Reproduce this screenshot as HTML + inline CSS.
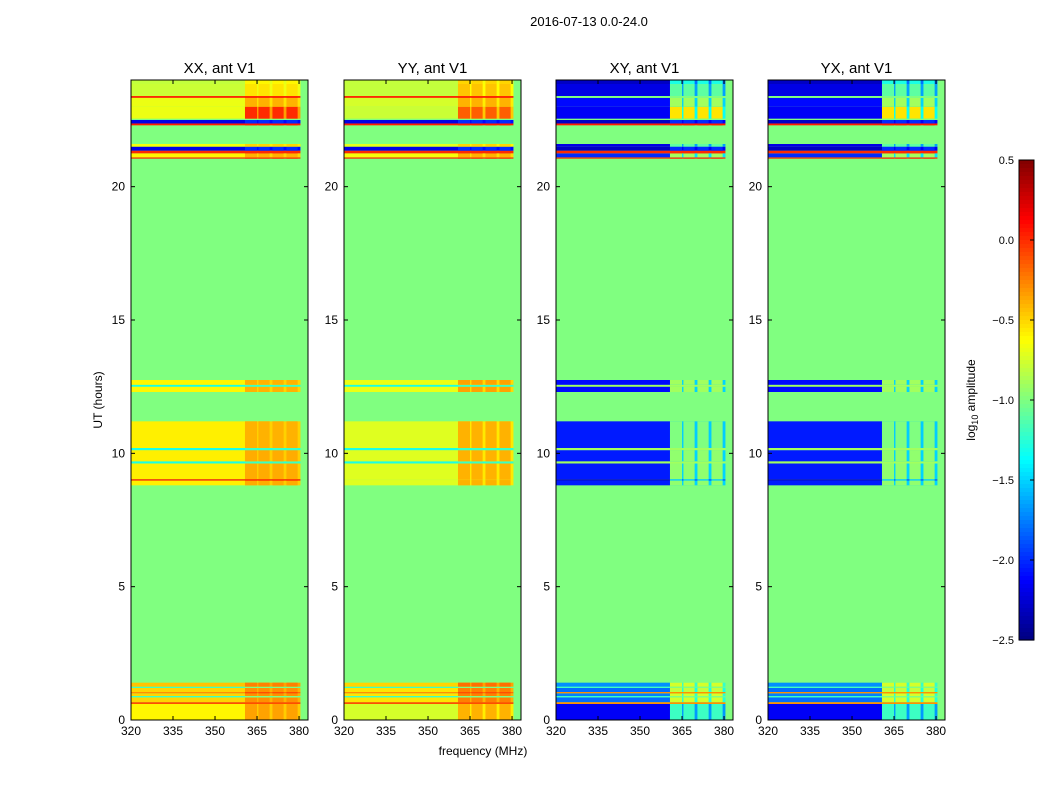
<!DOCTYPE html>
<html><head><meta charset="utf-8"><style>
html,body{margin:0;padding:0;background:#fff;}
svg{display:block;font-family:"Liberation Sans",sans-serif;}
</style></head><body>
<svg id="chart" width="1050" height="800" viewBox="0 0 1050 800">
<text x="589" y="26" font-size="13" text-anchor="middle">2016-07-13 0.0-24.0</text>
<text x="483" y="755" font-size="12" text-anchor="middle">frequency (MHz)</text>
<text transform="translate(102,400) rotate(-90)" font-size="12" text-anchor="middle">UT (hours)</text>
<text transform="translate(975,400) rotate(-90)" font-size="12" text-anchor="middle">log<tspan font-size="9" dy="3">10</tspan><tspan dy="-3"> amplitude</tspan></text>
<g id="panels"></g>
<g id="cbar"></g>
</svg>
<script>
// ---- data ----
const panelTitles = ["XX, ant V1","YY, ant V1","XY, ant V1","YX, ant V1"];
const xTicks = [320,335,350,365,380];
const yTicks = [0,5,10,15,20];
const cbTicks = [0.5,0.0,-0.5,-1.0,-1.5,-2.0,-2.5];
const cbTickLabels = ["0.5","0.0","\u22120.5","\u22121.0","\u22121.5","\u22122.0","\u22122.5"];
const rowStart = [0.0,0.60,0.67,0.85,0.90,1.00,1.05,1.20,1.25,8.80,8.98,9.03,9.62,9.70,10.12,10.20,12.30,12.50,12.57,21.05,21.10,21.25,21.35,21.50,22.30,22.37,22.55,23.00,23.33,23.40,23.85];
const rowEnd   = [0.6,0.67,0.85,0.90,1.00,1.05,1.20,1.25,1.40,8.98,9.03,9.62,9.70,10.12,10.20,11.20,12.50,12.57,12.75,21.10,21.25,21.35,21.50,21.60,22.37,22.50,23.00,23.33,23.40,23.85,24.00];
const xxBase = [-0.6,-0.1,-0.5,-1.2,-0.5,-0.3,-0.5,-1.2,-0.45,-0.58,0.1,-0.58,-1.3,-0.58,-1.3,-0.58,-0.6,-1.3,-0.6,0.0,-0.6,0.0,-2.2,-0.65,0.05,-2.2,-0.68,-0.68,0.0,-0.78,-0.8];
const xxRfi  = [-0.35,-0.1,-0.3,-1.0,-0.3,-0.1,-0.3,-1.0,-0.25,-0.38,0.1,-0.38,-1.2,-0.38,-1.2,-0.4,-0.4,-1.2,-0.4,0.0,-0.4,0.0,-2.0,-0.5,0.05,-2.0,0.0,-0.4,0.0,-0.55,-0.6];
const yyBase = [-0.75,-0.1,-0.55,-1.2,-0.55,-0.3,-0.55,-1.2,-0.5,-0.72,-0.72,-0.72,-1.3,-0.72,-1.3,-0.72,-0.68,-1.3,-0.68,0.0,-0.65,0.0,-2.2,-0.7,0.05,-2.2,-0.78,-0.75,0.0,-0.8,-0.8];
const yyRfi  = [-0.4,-0.1,-0.25,-1.0,-0.25,-0.1,-0.25,-1.0,-0.2,-0.4,-0.4,-0.4,-1.2,-0.4,-1.2,-0.4,-0.35,-1.2,-0.35,0.0,-0.4,0.0,-2.0,-0.5,0.05,-2.0,-0.15,-0.4,0.0,-0.45,-0.5];
const xyBase = [-2.15,-0.3,-1.8,-1.2,-1.75,-0.3,-1.8,-1.2,-1.7,-2.05,-2.3,-2.05,-0.9,-2.05,-0.9,-2.05,-2.1,-0.9,-2.1,0.0,-2.0,0.0,-2.3,-2.2,0.05,-2.3,-2.15,-2.1,-1.0,-2.2,-2.3];
const xyRfi  = [-1.2,-0.3,-0.75,-1.0,-0.75,-0.3,-0.8,-1.0,-0.75,-0.95,-1.5,-0.95,-0.9,-0.95,-0.9,-1.0,-0.9,-0.9,-0.9,0.0,-0.9,0.0,-2.0,-1.1,0.05,-2.0,-0.55,-0.9,-1.0,-1.1,-1.3];
const yxBase = xyBase.slice();
const yxRfi  = xyRfi.slice();
const dataFreqStart = 320, rfiFreqStart = 360.7, dataFreqEnd = 380.5;
const rfiBlockStart = [360.7,365.5,370.5,375.5];
const rfiBlockEnd   = [365.0,369.5,374.5,379.5];

// ---- geometry ----
const panelLeft = [131,344,556,768];
const PW = 177, TOP = 80, BOT = 720;
const xs = (p,f) => panelLeft[p] + (f-320)*(PW/63.2);
const ys = h => BOT - h*(BOT-TOP)/24;
function jet(v){
  let t=(v+2.5)/3; t=Math.max(0,Math.min(1,t));
  const c=x=>Math.round(255*Math.max(0,Math.min(1,x)));
  return `rgb(${c(1.5-Math.abs(4*t-3))},${c(1.5-Math.abs(4*t-2))},${c(1.5-Math.abs(4*t-1))})`;
}
const NS="http://www.w3.org/2000/svg";
function mk(tag,attrs,parent){const e=document.createElementNS(NS,tag);for(const k in attrs)e.setAttribute(k,attrs[k]);parent.appendChild(e);return e;}
const bases=[xxBase,yyBase,xyBase,yxBase], rfis=[xxRfi,yyRfi,xyRfi,yxRfi];
const G=document.getElementById('panels');
for(let p=0;p<4;p++){
  const g=mk('g',{},G);
  
  
  const bg=mk('rect',{x:panelLeft[p],y:TOP,width:PW,height:BOT-TOP,fill:jet(-1.0)},g);
  
  
  for(let r=0;r<rowStart.length;r++){
    const y0=ys(rowEnd[r]), y1=ys(rowStart[r]);
    const b=bases[p][r], rf=rfis[p][r];
    const cell=mk('rect',{x:xs(p,dataFreqStart),y:y0,width:xs(p,rfiFreqStart)-xs(p,dataFreqStart),height:y1-y0,fill:jet(b)},g);
    
    
    const gap=mk('rect',{x:xs(p,rfiFreqStart),y:y0,width:xs(p,dataFreqEnd)-xs(p,rfiFreqStart),height:y1-y0,fill:jet((b+rf)/2)},g);
    
    
    for(let k=0;k<rfiBlockStart.length;k++){
      const c=mk('rect',{x:xs(p,rfiBlockStart[k]),y:y0,width:xs(p,rfiBlockEnd[k])-xs(p,rfiBlockStart[k]),height:y1-y0,fill:jet(rf)},g);
      
      
    }
  }
  mk('rect',{x:panelLeft[p],y:TOP,width:PW,height:BOT-TOP,fill:'none',stroke:'#000','stroke-width':1},g);
  const t=mk('text',{x:panelLeft[p]+PW/2,y:TOP-7,'font-size':15,'text-anchor':'middle'},g);
  t.textContent=panelTitles[p];
  
  
  xTicks.forEach(f=>{
    const x=xs(p,f);
    mk('line',{x1:x,x2:x,y1:BOT,y2:BOT-4,stroke:'#000'},g);
    mk('line',{x1:x,x2:x,y1:TOP,y2:TOP+4,stroke:'#000'},g);
    const l=mk('text',{x:x,y:BOT+15,'font-size':12,'text-anchor':'middle'},g);
    l.textContent=f;
    
    
  });
  yTicks.forEach(h=>{
    const y=ys(h);
    mk('line',{x1:panelLeft[p],x2:panelLeft[p]+4,y1:y,y2:y,stroke:'#000'},g);
    mk('line',{x1:panelLeft[p]+PW,x2:panelLeft[p]+PW-4,y1:y,y2:y,stroke:'#000'},g);
    const l=mk('text',{x:panelLeft[p]-6,y:y+4,'font-size':12,'text-anchor':'end'},g);
    l.textContent=h;
    
    
  });
}
// colorbar
const CB=document.getElementById('cbar');


const cbX=1019,cbW=15,cbT=160,cbB=640;
const cy=v=>cbT+(0.5-v)/3*(cbB-cbT);
for(let i=0;i<120;i++){
  const v0=0.5-3*i/120, v1=0.5-3*(i+1)/120;
  mk('rect',{x:cbX,y:cy(v0),width:cbW,height:cy(v1)-cy(v0)+0.6,fill:jet((v0+v1)/2)},CB);
}
mk('rect',{x:cbX,y:cbT,width:cbW,height:cbB-cbT,fill:'none',stroke:'#000'},CB);
cbTicks.forEach((v,i)=>{
  const y=cy(v);
  mk('line',{x1:cbX+cbW-4,x2:cbX+cbW,y1:y,y2:y,stroke:'#000'},CB);
  const l=mk('text',{x:1014,y:y+4,'font-size':11,'text-anchor':'end'},CB);
  l.textContent=cbTickLabels[i];
  
  
});
</script>
</body></html>
